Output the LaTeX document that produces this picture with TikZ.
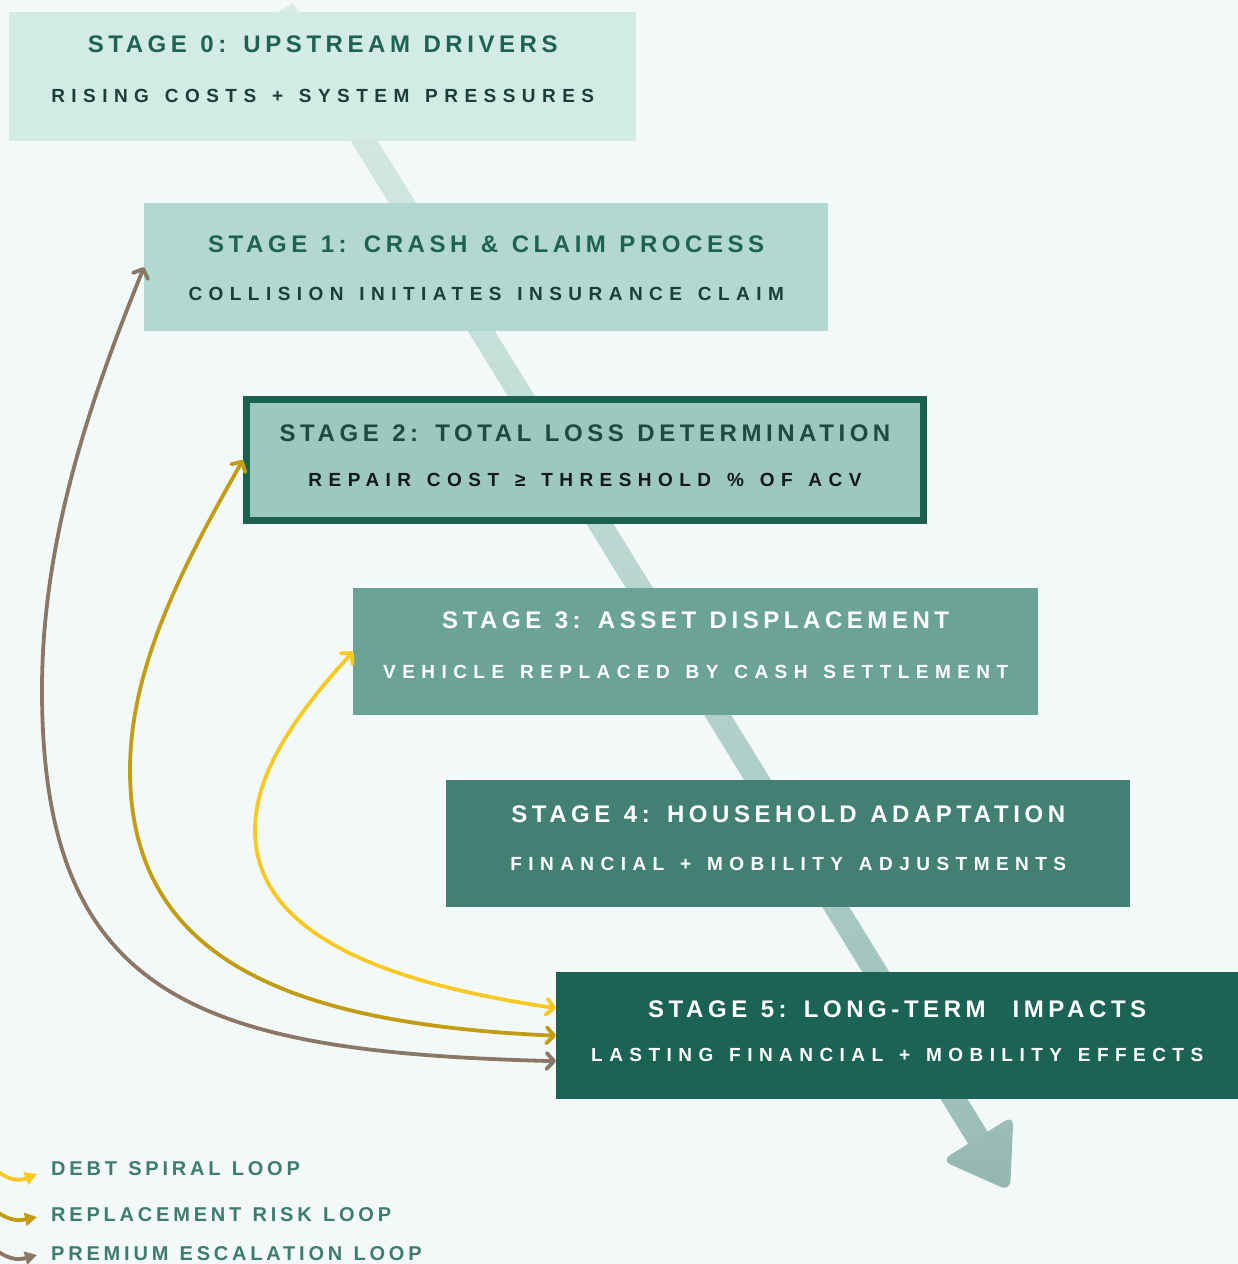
\documentclass[tikz,border=0pt]{standalone}
\usepackage{fontspec}
\setmainfont{Liberation Sans}
\newfontfamily\stagetitlefont{Liberation Sans}[LetterSpace=19,WordSpace=1.15]
\newfontfamily\stagesubfont{Liberation Sans}[LetterSpace=34,WordSpace=1.35]
\newfontfamily\legendfont{Liberation Sans}[LetterSpace=19,WordSpace=1.2]
\usetikzlibrary{arrows.meta,calc}

\definecolor{bg}{HTML}{F3F9F8}
\definecolor{sZfill}{HTML}{D3EBE5}
\definecolor{sOfill}{HTML}{B3D8D0}
\definecolor{sTfill}{HTML}{9CC8BF}
\definecolor{sTline}{HTML}{1B6152}
\definecolor{sThfill}{HTML}{6BA497}
\definecolor{sFfill}{HTML}{418072}
\definecolor{sVfill}{HTML}{1B6354}
\definecolor{ttldark}{HTML}{1E6352}
\definecolor{subdark}{HTML}{1B3F37}
\definecolor{ttlmid}{HTML}{1E4A42}
\definecolor{subblack}{HTML}{111A18}
\definecolor{legendtxt}{HTML}{3D7D6F}
\definecolor{debtcol}{HTML}{F9C923}
\definecolor{riskcol}{HTML}{C29D14}
\definecolor{premcol}{HTML}{8A7766}
\definecolor{flowtop}{HTML}{D8EDE8}
\definecolor{flowbot}{HTML}{9BBFB7}
\definecolor{flowhead}{HTML}{93B7AF}

\tikzset{
  stagebox/.style={rectangle, inner sep=0pt, anchor=north west},
  stagetitle/.style={inner sep=0pt, anchor=center,
    font=\stagetitlefont\fontsize{24}{24}\selectfont\bfseries},
  stagesub/.style={inner sep=0pt, anchor=center,
    font=\stagesubfont\fontsize{19}{19}\selectfont\bfseries},
  legendtext/.style={inner sep=0pt, anchor=west, text=legendtxt,
    font=\legendfont\fontsize{20}{20}\selectfont\bfseries},
  loopline/.style={line width=3.8pt, line cap=round,
    arrows={Straight Barb[length=7.5pt,width=16pt,round]-Straight Barb[length=7.5pt,width=16pt,round]}},
  legendarrow/.style={line width=3.8pt, line cap=round,
    -{Triangle[length=12pt,width=13pt]}},
}

\begin{document}
\begin{tikzpicture}[x=1pt,y=-1pt]
\useasboundingbox (0,0) rectangle (1238,1264);
\fill[bg] (0,0) rectangle (1238,1264);

% main flow band running down through all stages
\shade[top color=flowtop, bottom color=flowbot]
  (292.8,3.0) -- (987.8,1132) -- (968.2,1144) -- (273.2,15.0) -- cycle;
\shade[top color=flowbot, bottom color=flowhead, rounded corners=10pt]
  (1013.5,1115.5) -- (1010,1191) -- (941.5,1160.5) -- cycle;

% stage boxes
\node[stagebox, fill=sZfill, minimum width=627pt, minimum height=129pt] (s0) at (9,12) {};
\node[stagebox, fill=sOfill, minimum width=684pt, minimum height=128pt] (s1) at (144,203) {};
\node[stagebox, fill=sTfill, draw=sTline, line width=7pt,
      minimum width=677pt, minimum height=121pt] (s2) at (243,396) {};
\node[stagebox, fill=sThfill, minimum width=685pt, minimum height=127pt] (s3) at (353,588) {};
\node[stagebox, fill=sFfill, minimum width=684pt, minimum height=127pt] (s4) at (446,780) {};
\node[stagebox, fill=sVfill, minimum width=682pt, minimum height=127pt] (s5) at (556,972) {};

% stage labels
\node[stagetitle, text=ttldark] (s0t) at ([yshift=32.5pt]s0.center) {STAGE 0: UPSTREAM DRIVERS};
\node[stagesub, text=subdark] (s0s) at ([yshift=-19.5pt]s0.center) {RISING COSTS + SYSTEM PRESSURES};

\node[stagetitle, text=ttldark] (s1t) at ([yshift=23pt]s1.center) {STAGE 1: CRASH \& CLAIM PROCESS};
\node[stagesub, text=subdark] (s1s) at ([yshift=-27pt]s1.center) {COLLISION INITIATES INSURANCE CLAIM};

\node[stagetitle, text=ttlmid] (s2t) at ([yshift=27pt]s2.center) {STAGE 2: TOTAL LOSS DETERMINATION};
\node[stagesub, text=subblack] (s2s) at ([yshift=-20pt]s2.center) {REPAIR COST ≥ THRESHOLD \% OF ACV};

\node[stagetitle, text=white] (s3t) at ([yshift=31.5pt]s3.center) {STAGE 3: ASSET DISPLACEMENT};
\node[stagesub, text=white] (s3s) at ([yshift=-20.5pt]s3.center) {VEHICLE REPLACED BY CASH SETTLEMENT};

\node[stagetitle, text=white] (s4t) at ([yshift=29.5pt]s4.center) {STAGE 4: HOUSEHOLD ADAPTATION};
\node[stagesub, text=white] (s4s) at ([yshift=-20.5pt]s4.center) {FINANCIAL + MOBILITY ADJUSTMENTS};

\node[stagetitle, text=white] (s5t) at ([yshift=26.5pt]s5.center) {STAGE 5: LONG-TERM \ IMPACTS};
\node[stagesub, text=white] (s5s) at ([yshift=-19.5pt]s5.center) {LASTING FINANCIAL + MOBILITY EFFECTS};

% feedback loops back from the long-term stage
\draw[loopline, debtcol] ([yshift=27.5pt]s5.west)
  .. controls (400,985) and (255,940) .. (255,830)
  .. controls (255,770) and (300,710) .. (s3.west);
\draw[loopline, riskcol] (s5.west)
  .. controls (290,1024) and (130,960) .. (130,770)
  .. controls (130,670) and (180,570) .. (s2.west);
\draw[loopline, premcol] ([yshift=-25.5pt]s5.west)
  .. controls (200,1052) and (42,1000) .. (42,690)
  .. controls (42,540) and (90,400) .. (s1.west);

% legend
\node[legendtext] (lg1) at (51,1169) {DEBT SPIRAL LOOP};
\node[legendtext] (lg2) at (51,1215) {REPLACEMENT RISK LOOP};
\node[legendtext] (lg3) at (51,1254) {PREMIUM ESCALATION LOOP};

\coordinate (la1) at (-4,1170);
\coordinate (la2) at (-4,1211);
\coordinate (la3) at (-4,1250);
\draw[legendarrow, debtcol] (la1) .. controls (12,1183) and (22,1180) .. ([xshift=-14pt,yshift=-5pt]lg1.west);
\draw[legendarrow, riskcol] (la2) .. controls (12,1223) and (22,1220) .. ([xshift=-14pt,yshift=-2pt]lg2.west);
\draw[legendarrow, premcol] (la3) .. controls (12,1262) and (22,1259) .. ([xshift=-14pt,yshift=-1pt]lg3.west);
\end{tikzpicture}
\end{document}
